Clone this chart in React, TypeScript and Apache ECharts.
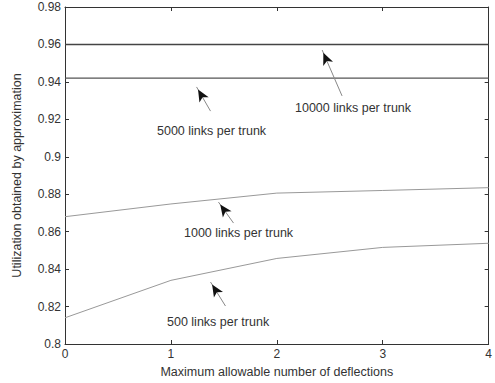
import React, { useEffect, useRef } from "react";
import * as echarts from "echarts";

const xValues = [0, 1, 2, 3, 4];
const links10000 = [0.96, 0.96, 0.96, 0.96, 0.96];
const links5000 = [0.942, 0.942, 0.942, 0.942, 0.942];
const links1000 = [0.868, 0.8748, 0.8806, 0.882, 0.8835];
const links500 = [0.814, 0.834, 0.8457, 0.8516, 0.8538];

const arrows = [
  { from: [1.374, 0.9244], to: [1.242, 0.9373] },
  { from: [2.616, 0.9325], to: [2.428, 0.957] },
  { from: [1.591, 0.8646], to: [1.449, 0.8758] },
  { from: [1.515, 0.8203], to: [1.374, 0.8331] },
];
const labels = [
  { text: "5000 links per trunk", x: 157, y: 124 },
  { text: "10000 links per trunk", x: 295, y: 101 },
  { text: "1000 links per trunk", x: 184, y: 226 },
  { text: "500 links per trunk", x: 167, y: 315 },
];

const font = "Liberation Sans, Arial, sans-serif";

export default function App() {
  const ref = useRef<HTMLDivElement>(null);
  useEffect(() => {
    if (!ref.current) return;
    const chart = echarts.init(ref.current, null, { renderer: "svg" });
    const axisCommon = {
      type: "value" as const,
      axisLine: { show: true, onZero: false, lineStyle: { color: "#333", width: 1 } },
      axisTick: { show: true, inside: true, length: 4, lineStyle: { color: "#333" } },
      splitLine: { show: false },
    };
    const mk = (data: number[], color: string, width: number, arrowIdx: number) => {
      const a = arrows[arrowIdx];
      // short segment near the head, used only to draw a black arrowhead
      const near = [a.to[0] + (a.from[0] - a.to[0]) * 0.05, a.to[1] + (a.from[1] - a.to[1]) * 0.05];
      return {
        type: "line",
        data: xValues.map((x, i) => [x, data[i]]),
        showSymbol: false,
        symbol: "none",
        lineStyle: { color, width },
        silent: true,
        markLine: {
          silent: true,
          symbol: ["none", "none"],
          label: { show: false },
          lineStyle: { color: "#888", width: 1, type: "solid" },
          data: [
            [
              { coord: a.from, symbol: "none" },
              { coord: a.to, symbol: "none" },
            ],
            [
              { coord: near, symbol: "none", lineStyle: { color: "#111", width: 0 } },
              {
                coord: a.to,
                symbol: "arrow",
                symbolSize: [8, 12],
                symbolOffset: [0, 3],
                itemStyle: { color: "#111" },
                lineStyle: { color: "#111", width: 0 },
              },
            ],
          ],
        },
      };
    };
    const tickFont = { color: "#333", fontSize: 12, fontFamily: font };
    chart.setOption({
      animation: false,
      backgroundColor: "#fff",
      grid: { left: 65, top: 7, right: 5, bottom: 39, containLabel: false },
      xAxis: [
        {
          ...axisCommon,
          position: "bottom",
          min: 0,
          max: 4,
          interval: 1,
          axisLabel: { ...tickFont, margin: 4 },
          name: "Maximum allowable number of deflections",
          nameLocation: "middle",
          nameGap: 21,
          nameTextStyle: { color: "#333", fontSize: 12.5, fontFamily: font },
        },
        {
          ...axisCommon,
          position: "top",
          min: 0,
          max: 4,
          interval: 1,
          axisLabel: { show: false },
        },
      ],
      yAxis: [
        {
          ...axisCommon,
          position: "left",
          min: 0.8,
          max: 0.98,
          interval: 0.02,
          axisLabel: {
            ...tickFont,
            margin: 4,
            formatter: (v: number) => String(parseFloat(v.toFixed(2))),
          },
          name: "Utilization obtained by approximation",
          nameLocation: "middle",
          nameGap: 42,
          nameTextStyle: { color: "#333", fontSize: 12.5, fontFamily: font },
        },
        {
          ...axisCommon,
          position: "right",
          min: 0.8,
          max: 0.98,
          interval: 0.02,
          axisLabel: { show: false },
        },
      ],
      series: [
        mk(links10000, "#444", 1.5, 1),
        mk(links5000, "#555", 1.3, 0),
        mk(links1000, "#999", 1, 2),
        mk(links500, "#999", 1, 3),
      ],
      graphic: labels.map((l) => ({
        type: "text",
        left: l.x,
        top: l.y,
        style: { text: l.text, fill: "#333", fontSize: 12.5, fontFamily: font },
        silent: true,
      })),
    });
    return () => chart.dispose();
  }, []);
  return (
    <div
      ref={ref}
      style={{ position: "fixed", left: 0, top: 0, width: 495, height: 383 }}
    />
  );
}
